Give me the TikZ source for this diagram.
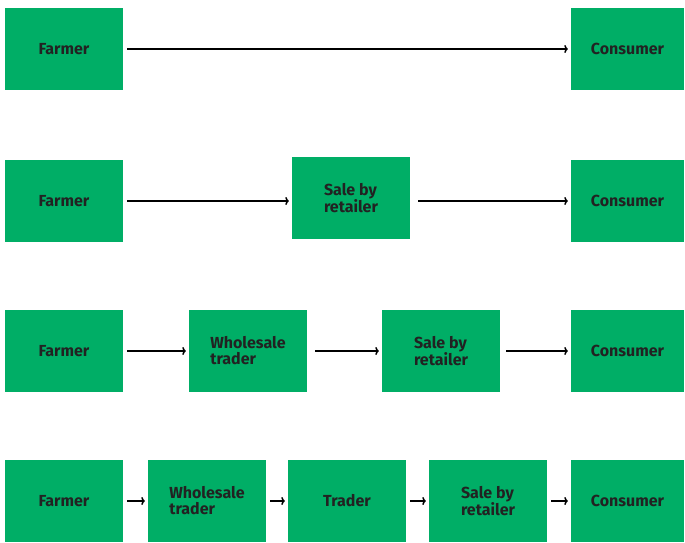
\documentclass[tikz,border=0pt]{standalone}
\usepackage{fontspec}
\setmainfont{Fira Sans}
\usetikzlibrary{arrows.meta}
\definecolor{boxgreen}{HTML}{00AE66}
\definecolor{txt}{HTML}{222222}
\begin{document}
\begin{tikzpicture}[x=1pt,y=-1pt,
  box/.style={fill=boxgreen,draw=none,minimum height=82pt,inner sep=0pt,
    font=\fontsize{16}{16}\selectfont\bfseries,text=txt,align=left},
  flow/.style={line width=1.5pt,-{To[length=3.5pt,width=8pt]},shorten >=3pt,shorten <=4pt}]
\useasboundingbox (0,0) rectangle (685,543);
% row 1
\node[box,minimum width=118pt] (f1) at (64,49) {Farmer};
\node[box,minimum width=113pt] (c1) at (627.5,49) {Consumer};
\draw[flow] (f1) -- (c1);
% row 2
\node[box,minimum width=118pt] (f2) at (64,201) {Farmer};
\node[box,minimum width=118pt] (s2) at (351,198) {Sale by\\retailer};
\node[box,minimum width=113pt] (c2) at (627.5,201) {Consumer};
\draw[flow] (f2.east) -- (f2.east -| s2.west);
\draw[flow,shorten <=8pt] (s2.east |- c2.west) -- (c2.west);
% row 3
\node[box,minimum width=118pt] (f3) at (64,351) {Farmer};
\node[box,minimum width=118pt] (w3) at (248,351) {Wholesale\\trader};
\node[box,minimum width=118pt] (s3) at (441,351) {Sale by\\retailer};
\node[box,minimum width=113pt] (c3) at (627.5,351) {Consumer};
\draw[flow] (f3) -- (w3);
\draw[flow,shorten <=8pt] (w3) -- (s3);
\draw[flow,shorten <=6pt] (s3) -- (c3);
% row 4
\node[box,minimum width=118pt] (f4) at (64,501) {Farmer};
\node[box,minimum width=118pt] (w4) at (207,501) {Wholesale\\trader};
\node[box,minimum width=118pt] (t4) at (347,501) {Trader};
\node[box,minimum width=118pt] (s4) at (488,501) {Sale by\\retailer};
\node[box,minimum width=113pt] (c4) at (627.5,501) {Consumer};
\draw[flow] (f4) -- (w4);
\draw[flow] (w4) -- (t4);
\draw[flow] (t4) -- (s4);
\draw[flow] (s4) -- (c4);
\end{tikzpicture}
\end{document}
